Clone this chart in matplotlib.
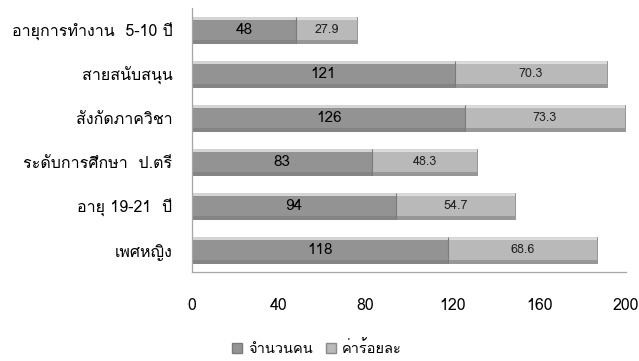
import numpy as np
import matplotlib
matplotlib.use('Agg')
import matplotlib.pyplot as plt
from matplotlib import font_manager as fm
from matplotlib.ft2font import FT2Font
from matplotlib.patches import Patch


def thai_family():
    # first installed family that has Thai glyphs
    for f in fm.fontManager.ttflist:
        try:
            if 0x0E01 in FT2Font(f.fname).get_charmap():
                return f.name
        except Exception:
            pass
    return 'DejaVu Sans'


FAM = [thai_family(), 'DejaVu Sans']
plt.rcParams['font.family'] = FAM

categories = ['อายุการทำงาน  5-10 ปี', 'สายสนับสนุน', 'สังกัดภาควิชา',
              'ระดับการศึกษา  ป.ตรี', 'อายุ 19-21  ปี', 'เพศหญิง']
counts = [48, 121, 126, 83, 94, 118]
percents = [27.9, 70.3, 73.3, 48.3, 54.7, 68.6]
series_names = ['จำนวนคน', 'ค่าร้อยละ']
xticks = [0, 40, 80, 120, 160, 200]

C_DARK = '#939393'
C_LIGHT = '#b9b9b9'

fig = plt.figure(figsize=(6.39, 3.61), dpi=100)
ax = fig.add_axes([0.3005, 0.2465, 0.6792, 0.7313])

y = np.arange(len(categories))
h = 0.6
b1 = ax.barh(y, counts, h, color=C_DARK, edgecolor='#7a7a7a', lw=0.6)
b2 = ax.barh(y, percents, h, left=counts, color=C_LIGHT, edgecolor='#8a8a8a', lw=0.6)
# bevel: light strip at top, dark strip at bottom
tot = np.array(counts) + np.array(percents)
ax.barh(y - h / 2 + 0.04, tot, 0.08, color='#e6e6e6', lw=0, alpha=0.8)
ax.barh(y + h / 2 - 0.035, tot, 0.07, color='#777777', lw=0, alpha=0.5)
ax.vlines(counts, y - h / 2, y + h / 2, color='#7a7a7a', lw=0.8)

for yi, c, p in zip(y, counts, percents):
    ax.text(c / 2, yi, f'{c}', ha='center', va='center', fontsize=11, color='black')
    ax.text(c + p / 2, yi, f'{p:.1f}', ha='center', va='center', fontsize=9, color='#222222')

ax.set_ylim(len(categories) - 0.5, -0.5)
ax.set_xlim(0, 200)
ax.set_yticks(y)
ax.set_yticklabels(categories, fontsize=11.5)
ax.set_xticks(xticks)
ax.set_xticklabels([str(t) for t in xticks], fontsize=11.5)
ax.tick_params(axis='both', length=0)
ax.tick_params(axis='x', pad=19)
ax.tick_params(axis='y', pad=14)
for s in ['top', 'right']:
    ax.spines[s].set_visible(False)
for s in ['left', 'bottom']:
    ax.spines[s].set_color('#a6a6a6')
    ax.spines[s].set_linewidth(0.9)

handles = [Patch(facecolor=C_DARK, edgecolor='#7a7a7a'),
           Patch(facecolor=C_LIGHT, edgecolor='#8a8a8a')]
fig.legend(handles, series_names, loc='center', bbox_to_anchor=(0.496, 0.035),
           ncol=2, frameon=False, fontsize=10.5, handlelength=0.7, handleheight=0.7,
           handletextpad=0.4, columnspacing=0.9)

fig.savefig('out.png', dpi=100, facecolor='white')
